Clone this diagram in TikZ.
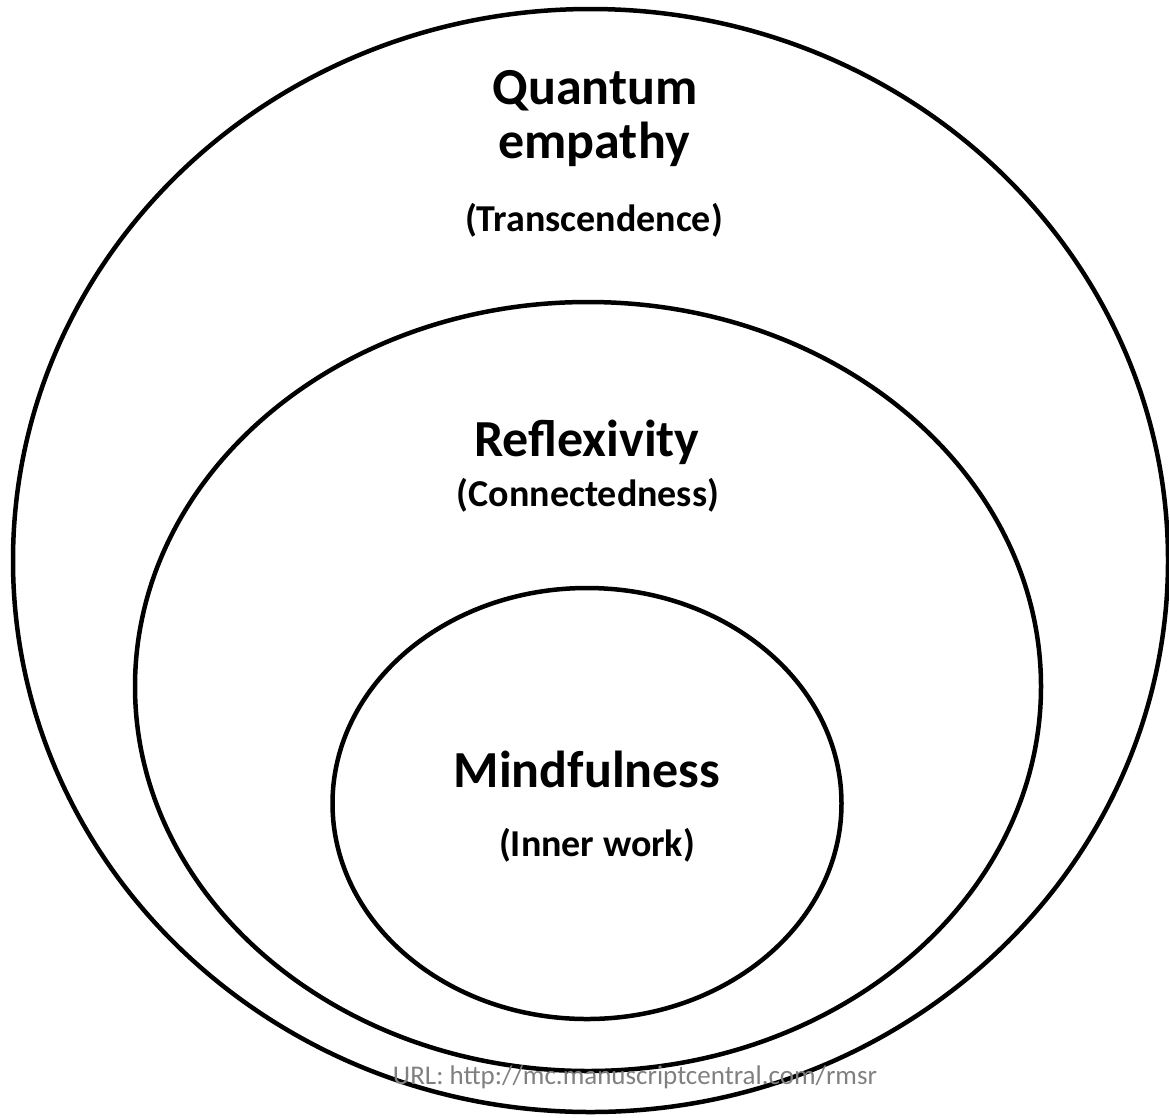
\documentclass[tikz,border=0pt]{standalone}
\usepackage{fontspec}
\setmainfont{Carlito}
\begin{document}
\begin{tikzpicture}[x=1pt,y=-1pt,
  ring/.style={line width=4.5pt,draw=black},
  head/.style={font=\fontsize{52}{56}\selectfont\bfseries,inner sep=0pt,anchor=base},
  sub/.style={font=\fontsize{38}{42}\selectfont\bfseries,inner sep=0pt,anchor=base},
  url/.style={font=\fontsize{27}{30}\selectfont,text=black!50,inner sep=0pt,anchor=base}]
\useasboundingbox (0,0) rectangle (1169,1117);
\draw[ring] (590.5,560.5) ellipse [x radius=577.5, y radius=551.5];
\draw[ring] (588,686.5) ellipse [x radius=453, y radius=384.5];
\draw[ring] (587,803.5) ellipse [x radius=254.5, y radius=215.5];
\node[head] (q1) at (595,104) {Quantum};
\node[head] (q2) at (594,158) {empathy};
\node[sub] (q3) at (594,231) {(Transcendence)};
\node[head] (r1) at (587,456) {Reflexivity};
\node[sub] (r2) at (588,506) {(Connectedness)};
\node[head] (m1) at (587,787) {Mindfulness};
\node[sub] (m2) at (597,856) {(Inner work)};
\node[url] (u) at (635,1084) {URL: http://mc.manuscriptcentral.com/rmsr};
\end{tikzpicture}
\end{document}
